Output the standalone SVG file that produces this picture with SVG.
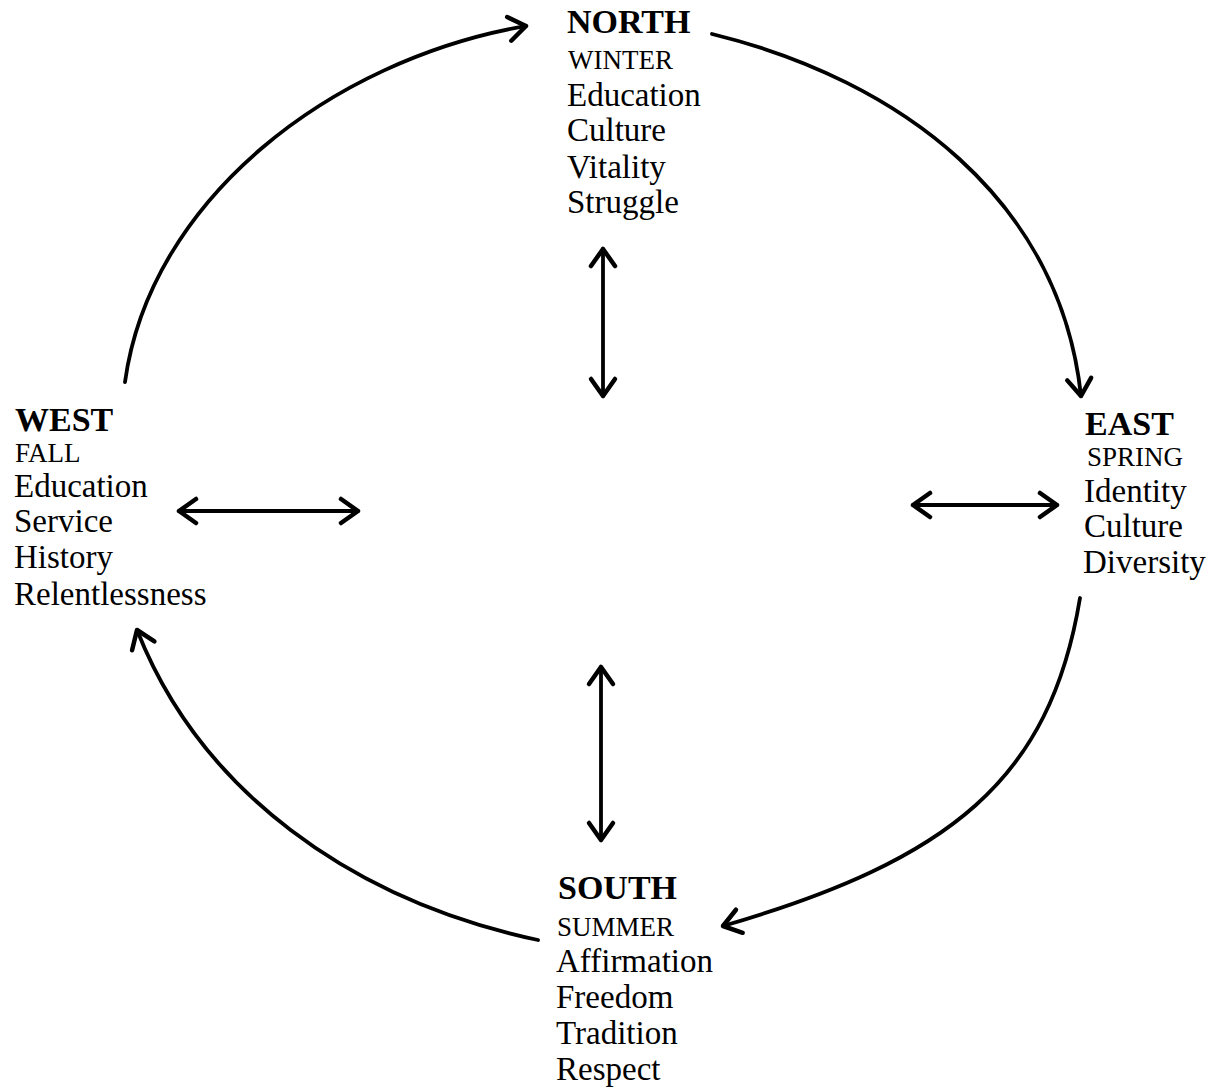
<svg xmlns="http://www.w3.org/2000/svg" width="1219" height="1092" viewBox="0 0 1219 1092">
<defs>
<style>
text{font-family:"Liberation Serif","Times New Roman",serif;fill:#000}
.h{font-size:34px;font-weight:bold}
.s{font-size:27px}
.b{font-size:33px}
.c{fill:none;stroke:#000;stroke-width:3.8;stroke-linecap:round}
</style>
<marker id="ah" markerUnits="userSpaceOnUse" markerWidth="32" markerHeight="32" refX="21" refY="16" orient="auto-start-reverse" viewBox="0 0 32 32">
<path d="M4,4 L21,16 L4,28" fill="none" stroke="#000" stroke-width="4.5" stroke-linecap="round" stroke-linejoin="round"/>
</marker>
</defs>
<rect width="1219" height="1092" fill="#fff"/>
<g id="connectors">
<path class="c" d="M712,34 C900,80 1060,200 1081,396" marker-end="url(#ah)"/>
<path class="c" d="M1080,598 C1050,780 950,860 723,926" marker-end="url(#ah)"/>
<path class="c" d="M538,940 C350,900 200,790 137,630" marker-end="url(#ah)"/>
<path class="c" d="M125,382 C150,200 330,60 526,26" marker-end="url(#ah)"/>
<path class="c" d="M603,249 L603,396" marker-start="url(#ah)" marker-end="url(#ah)"/>
<path class="c" d="M601,667 L601,840" marker-start="url(#ah)" marker-end="url(#ah)"/>
<path class="c" d="M179,511 L358,511" marker-start="url(#ah)" marker-end="url(#ah)"/>
<path class="c" d="M913,505 L1057,505" marker-start="url(#ah)" marker-end="url(#ah)"/>
</g>
<g id="north">
<text class="h" x="567" y="33">NORTH</text>
<text class="s" x="568" y="69">WINTER</text>
<text class="b" x="567" y="106">Education</text>
<text class="b" x="567" y="141">Culture</text>
<text class="b" x="567" y="178">Vitality</text>
<text class="b" x="567" y="213">Struggle</text>
</g>
<g id="east">
<text class="h" x="1085" y="435">EAST</text>
<text class="s" x="1087" y="466">SPRING</text>
<text class="b" x="1084" y="502">Identity</text>
<text class="b" x="1084" y="537">Culture</text>
<text class="b" x="1083" y="573">Diversity</text>
</g>
<g id="west">
<text class="h" x="15" y="431">WEST</text>
<text class="s" x="15" y="462">FALL</text>
<text class="b" x="14" y="497">Education</text>
<text class="b" x="14" y="532">Service</text>
<text class="b" x="14" y="568">History</text>
<text class="b" x="14" y="605">Relentlessness</text>
</g>
<g id="south">
<text class="h" x="558" y="899">SOUTH</text>
<text class="s" x="557" y="936">SUMMER</text>
<text class="b" x="556" y="972">Affirmation</text>
<text class="b" x="556" y="1008">Freedom</text>
<text class="b" x="556" y="1044">Tradition</text>
<text class="b" x="556" y="1080">Respect</text>
</g>
</svg>
